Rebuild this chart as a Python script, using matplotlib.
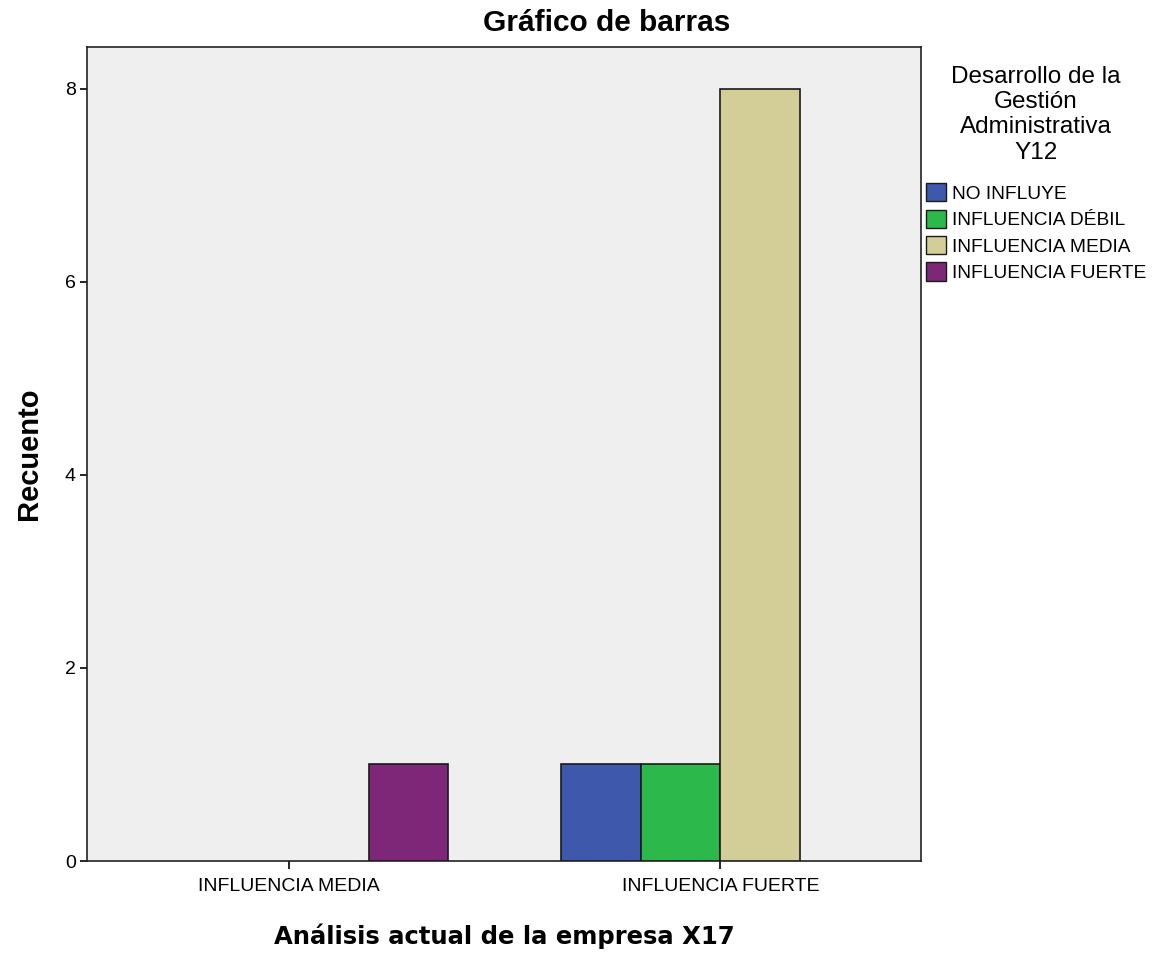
import numpy as np
import matplotlib.pyplot as plt
from matplotlib.patches import Patch

# ─── DATOS ───────────────────────────────────────────────────
grupos = ['INFLUENCIA MEDIA', 'INFLUENCIA FUERTE']
series = ['NO INFLUYE', 'INFLUENCIA DÉBIL', 'INFLUENCIA MEDIA', 'INFLUENCIA FUERTE']
conteos = {
    'NO INFLUYE':        [0, 1],
    'INFLUENCIA DÉBIL':  [0, 1],
    'INFLUENCIA MEDIA':  [0, 8],
    'INFLUENCIA FUERTE': [1, 0],
}

# ─── ESTILO ──────────────────────────────────────────────────
plt.rcParams['font.family'] = ['Liberation Sans', 'DejaVu Sans']
COLORS = ['#3E58AC', '#2DB84B', '#D3CE97', '#7E2779']

fig = plt.figure(figsize=(11.54, 9.55), dpi=100)
ax = fig.add_axes([0.0754, 0.0984, 0.7227, 0.8524])
ax.set_facecolor('#EFEFEF')

x = np.arange(len(grupos))
w = 0.185
for i, s in enumerate(series):
    vals = np.array(conteos[s])
    m = vals > 0  # SPSS no dibuja barras vacías
    ax.bar((x + (i - 1.5) * w)[m], vals[m], width=w, color=COLORS[i],
           edgecolor='#1a1a1a', linewidth=1.2, zorder=3)

ax.set_xlim(-0.4676, 1.465)
ax.set_ylim(0, 8.43)
ax.set_xticks(x)
ax.set_xticklabels(grupos, fontsize=14)
ax.set_yticks([0, 2, 4, 6, 8])
ax.tick_params(axis='y', labelsize=14, length=5, width=1.2, pad=3)
ax.tick_params(axis='x', length=6, width=1.2, pad=6)
for sp in ax.spines.values():
    sp.set_linewidth(1.2)
    sp.set_color('#222222')

ax.set_ylabel('Recuento', fontsize=21, fontweight='bold', labelpad=16)
ax.set_xlabel('Análisis actual de la empresa X17', fontsize=17.5,
              fontweight='bold', family='DejaVu Sans', labelpad=21)
fig.text(0.526, 0.976, 'Gráfico de barras', fontsize=21.5,
         fontweight='bold', ha='center', va='center')

handles = [Patch(facecolor=COLORS[i], edgecolor='#1a1a1a', label=s)
           for i, s in enumerate(series)]
leg = fig.legend(handles=handles, loc='upper left',
                 bbox_to_anchor=(0.7905, 0.945),
                 title='Desarrollo de la\nGestión\nAdministrativa\nY12',
                 fontsize=13.8, title_fontsize=17.5, frameon=False,
                 handlelength=1.05, handleheight=1.1, handletextpad=0.3,
                 labelspacing=0.35, borderpad=0.2)
leg._legend_box.align = 'center'
leg._legend_box.sep = 14
leg.get_title().set_multialignment('center')
leg.get_title().set_linespacing(1.19)

plt.savefig('out.png', dpi=100)
